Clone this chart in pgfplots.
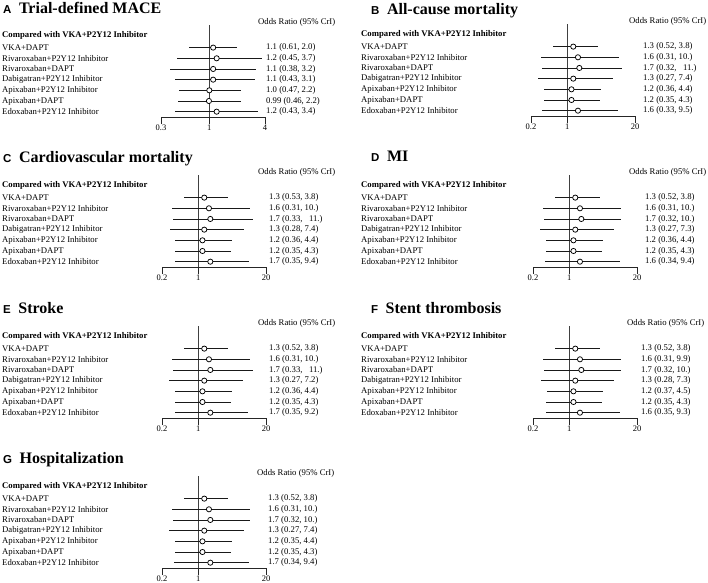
\documentclass[border=0pt]{standalone}
\usepackage{pgfplots}
\pgfplotsset{compat=1.18}
\usepackage{pgfplotstable}
\usepackage{fontspec}
\setmainfont{Liberation Serif}
\newfontfamily\sansfont{Liberation Sans}

\pgfplotstableread[col sep=semicolon]{
r;or;lo;hi;lab
-1;1.1;0.61;2.0;1.1 (0.61, 2.0)
-2;1.2;0.45;3.7;1.2 (0.45, 3.7)
-3;1.1;0.38;3.2;1.1 (0.38, 3.2)
-4;1.1;0.43;3.1;1.1 (0.43, 3.1)
-5;1.0;0.47;2.2;1.0 (0.47, 2.2)
-6;0.99;0.46;2.2;0.99 (0.46, 2.2)
-7;1.2;0.43;3.4;1.2 (0.43, 3.4)
}\dataA
\pgfplotstableread[col sep=semicolon]{
r;or;lo;hi;lab
-1;1.3;0.52;3.8;1.3 (0.52, 3.8)
-2;1.6;0.31;10;1.6 (0.31, 10.)
-3;1.7;0.32;11;1.7 (0.32,~~~11.)
-4;1.3;0.27;7.4;1.3 (0.27, 7.4)
-5;1.2;0.36;4.4;1.2 (0.36, 4.4)
-6;1.2;0.35;4.3;1.2 (0.35, 4.3)
-7;1.6;0.33;9.5;1.6 (0.33, 9.5)
}\dataB
\pgfplotstableread[col sep=semicolon]{
r;or;lo;hi;lab
-1;1.3;0.53;3.8;1.3 (0.53, 3.8)
-2;1.6;0.31;10;1.6 (0.31, 10.)
-3;1.7;0.33;11;1.7 (0.33,~~~11.)
-4;1.3;0.28;7.4;1.3 (0.28, 7.4)
-5;1.2;0.36;4.4;1.2 (0.36, 4.4)
-6;1.2;0.35;4.3;1.2 (0.35, 4.3)
-7;1.7;0.35;9.4;1.7 (0.35, 9.4)
}\dataC
\pgfplotstableread[col sep=semicolon]{
r;or;lo;hi;lab
-1;1.3;0.52;3.8;1.3 (0.52, 3.8)
-2;1.6;0.31;10;1.6 (0.31, 10.)
-3;1.7;0.32;10;1.7 (0.32, 10.)
-4;1.3;0.27;7.3;1.3 (0.27, 7.3)
-5;1.2;0.36;4.4;1.2 (0.36, 4.4)
-6;1.2;0.35;4.3;1.2 (0.35, 4.3)
-7;1.6;0.34;9.4;1.6 (0.34, 9.4)
}\dataD
\pgfplotstableread[col sep=semicolon]{
r;or;lo;hi;lab
-1;1.3;0.52;3.8;1.3 (0.52, 3.8)
-2;1.6;0.31;10;1.6 (0.31, 10.)
-3;1.7;0.33;11;1.7 (0.33,~~~11.)
-4;1.3;0.27;7.2;1.3 (0.27, 7.2)
-5;1.2;0.36;4.4;1.2 (0.36, 4.4)
-6;1.2;0.35;4.3;1.2 (0.35, 4.3)
-7;1.7;0.35;9.2;1.7 (0.35, 9.2)
}\dataE
\pgfplotstableread[col sep=semicolon]{
r;or;lo;hi;lab
-1;1.3;0.52;3.8;1.3 (0.52, 3.8)
-2;1.6;0.31;9.9;1.6 (0.31, 9.9)
-3;1.7;0.32;10;1.7 (0.32, 10.)
-4;1.3;0.28;7.3;1.3 (0.28, 7.3)
-5;1.2;0.37;4.5;1.2 (0.37, 4.5)
-6;1.2;0.35;4.3;1.2 (0.35, 4.3)
-7;1.6;0.35;9.3;1.6 (0.35, 9.3)
}\dataF
\pgfplotstableread[col sep=semicolon]{
r;or;lo;hi;lab
-1;1.3;0.52;3.8;1.3 (0.52, 3.8)
-2;1.6;0.31;10;1.6 (0.31, 10.)
-3;1.7;0.32;10;1.7 (0.32, 10.)
-4;1.3;0.27;7.4;1.3 (0.27, 7.4)
-5;1.2;0.35;4.4;1.2 (0.35, 4.4)
-6;1.2;0.35;4.3;1.2 (0.35, 4.3)
-7;1.7;0.34;9.4;1.7 (0.34, 9.4)
}\dataG

\newcommand\rowfont{\fontsize{8.7}{10}\selectfont}
\newcommand\drawpanel[1]{%
\begin{axis}[
  at={(\pXL pt,-\pYB pt)}, anchor=south west,
  scale only axis, width=104pt, height=91.8pt,
  xmode=log, xmin=\pXmin, xmax=\pXmax,
  ymin=-7.5, ymax=1.1,
  clip=false,
  axis x line*=bottom, axis y line*=left,
  y axis line style={draw=none},
  x axis line style={line width=0.8pt, black!85},
  xtick/.expanded=\pTicks, xticklabels/.expanded=\pTicks,
  minor x tick style={draw=none},
  xtick style={line width=0.8pt, black!85},
  tick align=outside, major tick length=6.5pt,
  xticklabel style={font=\fontsize{8.5}{10}\selectfont, inner sep=1pt},
  ytick={-7,-6,-5,-4,-3,-2,-1,0.18},
  yticklabels={Edoxaban+P2Y12 Inhibitor, Apixaban+DAPT, Apixaban+P2Y12 Inhibitor, Dabigatran+P2Y12 Inhibitor, Rivaroxaban+DAPT, Rivaroxaban+P2Y12 Inhibitor, VKA+DAPT, \textbf{Compared with VKA+P2Y12 Inhibitor}},
  ytick style={draw=none},
  yticklabel style={anchor=west, inner sep=0pt, xshift={6.5pt-\pLS pt}, font=\rowfont},
]
\addplot[black!75, line width=0.8pt, forget plot] coordinates {(1,-7.5) (1,1.1)};
\addplot[draw=none, mark=none, forget plot,
  error bars/.cd, x dir=both, x explicit, error mark=none,
  error bar style={draw=black!90, line width=0.9pt}]
  table[x=or, y=r, x error plus expr=\thisrow{hi}-\thisrow{or}, x error minus expr=\thisrow{or}-\thisrow{lo}] {#1};
\addplot[only marks, mark=*, mark size=2.6pt, mark options={fill=white, draw=black, line width=0.75pt}, forget plot]
  table[x=or, y=r] {#1};
\addplot[draw=none, mark=none, forget plot, nodes near coords, point meta=explicit symbolic,
  every node near coord/.append style={anchor=west, inner sep=0pt, xshift=\pTS pt, font=\rowfont}]
  table[x expr=\pXmax, y=r, meta=lab] {#1};
\node[anchor=west, inner sep=0pt, xshift=\pOS pt, font=\rowfont] at (axis cs:\pXmax,1.4) {Odds Ratio (95\% CrI)};
\end{axis}}

\newcommand\paneltitle[4]{% x, y, letter, title
\node[anchor=base west, inner sep=0pt] at (#1,-#2) {{\sansfont\bfseries\fontsize{11.5}{13}\selectfont #3}\hspace{7.5pt}{\bfseries\fontsize{16}{17}\selectfont #4}};}

\begin{document}
\begin{tikzpicture}[x=1pt,y=1pt]
\useasboundingbox (0,0) rectangle (708,-582);
% A
\def\pXL{161}\def\pYB{117}\def\pXmin{0.3}\def\pXmax{4}\def\pTicks{0.3,1,4}
\def\pLS{159}\def\pTS{1}\def\pOS{-7}
\drawpanel{\dataA}
\paneltitle{3}{13.5}{A}{Trial-defined MACE}
% B
\def\pXL{531}\def\pYB{116}\def\pXmin{0.2}\def\pXmax{20}\def\pTicks{0.2,1,20}
\def\pLS{170}\def\pTS{8}\def\pOS{-6}
\drawpanel{\dataB}
\paneltitle{371}{14}{B}{All-cause mortality}
% C
\def\pXL{162}\def\pYB{267}\def\pXmin{0.2}\def\pXmax{20}\def\pTicks{0.2,1,20}
\def\pLS{160}\def\pTS{3}\def\pOS{-8}
\drawpanel{\dataC}
\paneltitle{3}{162}{C}{Cardiovascular mortality}
% D
\def\pXL{533}\def\pYB{267}\def\pXmin{0.2}\def\pXmax{20}\def\pTicks{0.2,1,20}
\def\pLS{172}\def\pTS{8}\def\pOS{-8}
\drawpanel{\dataD}
\paneltitle{371}{161}{D}{MI}
% E
\def\pXL{162}\def\pYB{418}\def\pXmin{0.2}\def\pXmax{20}\def\pTicks{0.2,1,20}
\def\pLS{160}\def\pTS{3}\def\pOS{-8}
\drawpanel{\dataE}
\paneltitle{3}{313}{E}{Stroke}
% F
\def\pXL{533}\def\pYB{418}\def\pXmin{0.2}\def\pXmax{20}\def\pTicks{0.2,1,20}
\def\pLS{172}\def\pTS{4}\def\pOS{-10}
\drawpanel{\dataF}
\paneltitle{371}{313}{F}{Stent thrombosis}
% G
\def\pXL{162}\def\pYB{568}\def\pXmin{0.2}\def\pXmax{20}\def\pTicks{0.2,1,20}
\def\pLS{160}\def\pTS{2}\def\pOS{-9}
\drawpanel{\dataG}
\paneltitle{3}{463}{G}{Hospitalization}
\end{tikzpicture}
\end{document}
